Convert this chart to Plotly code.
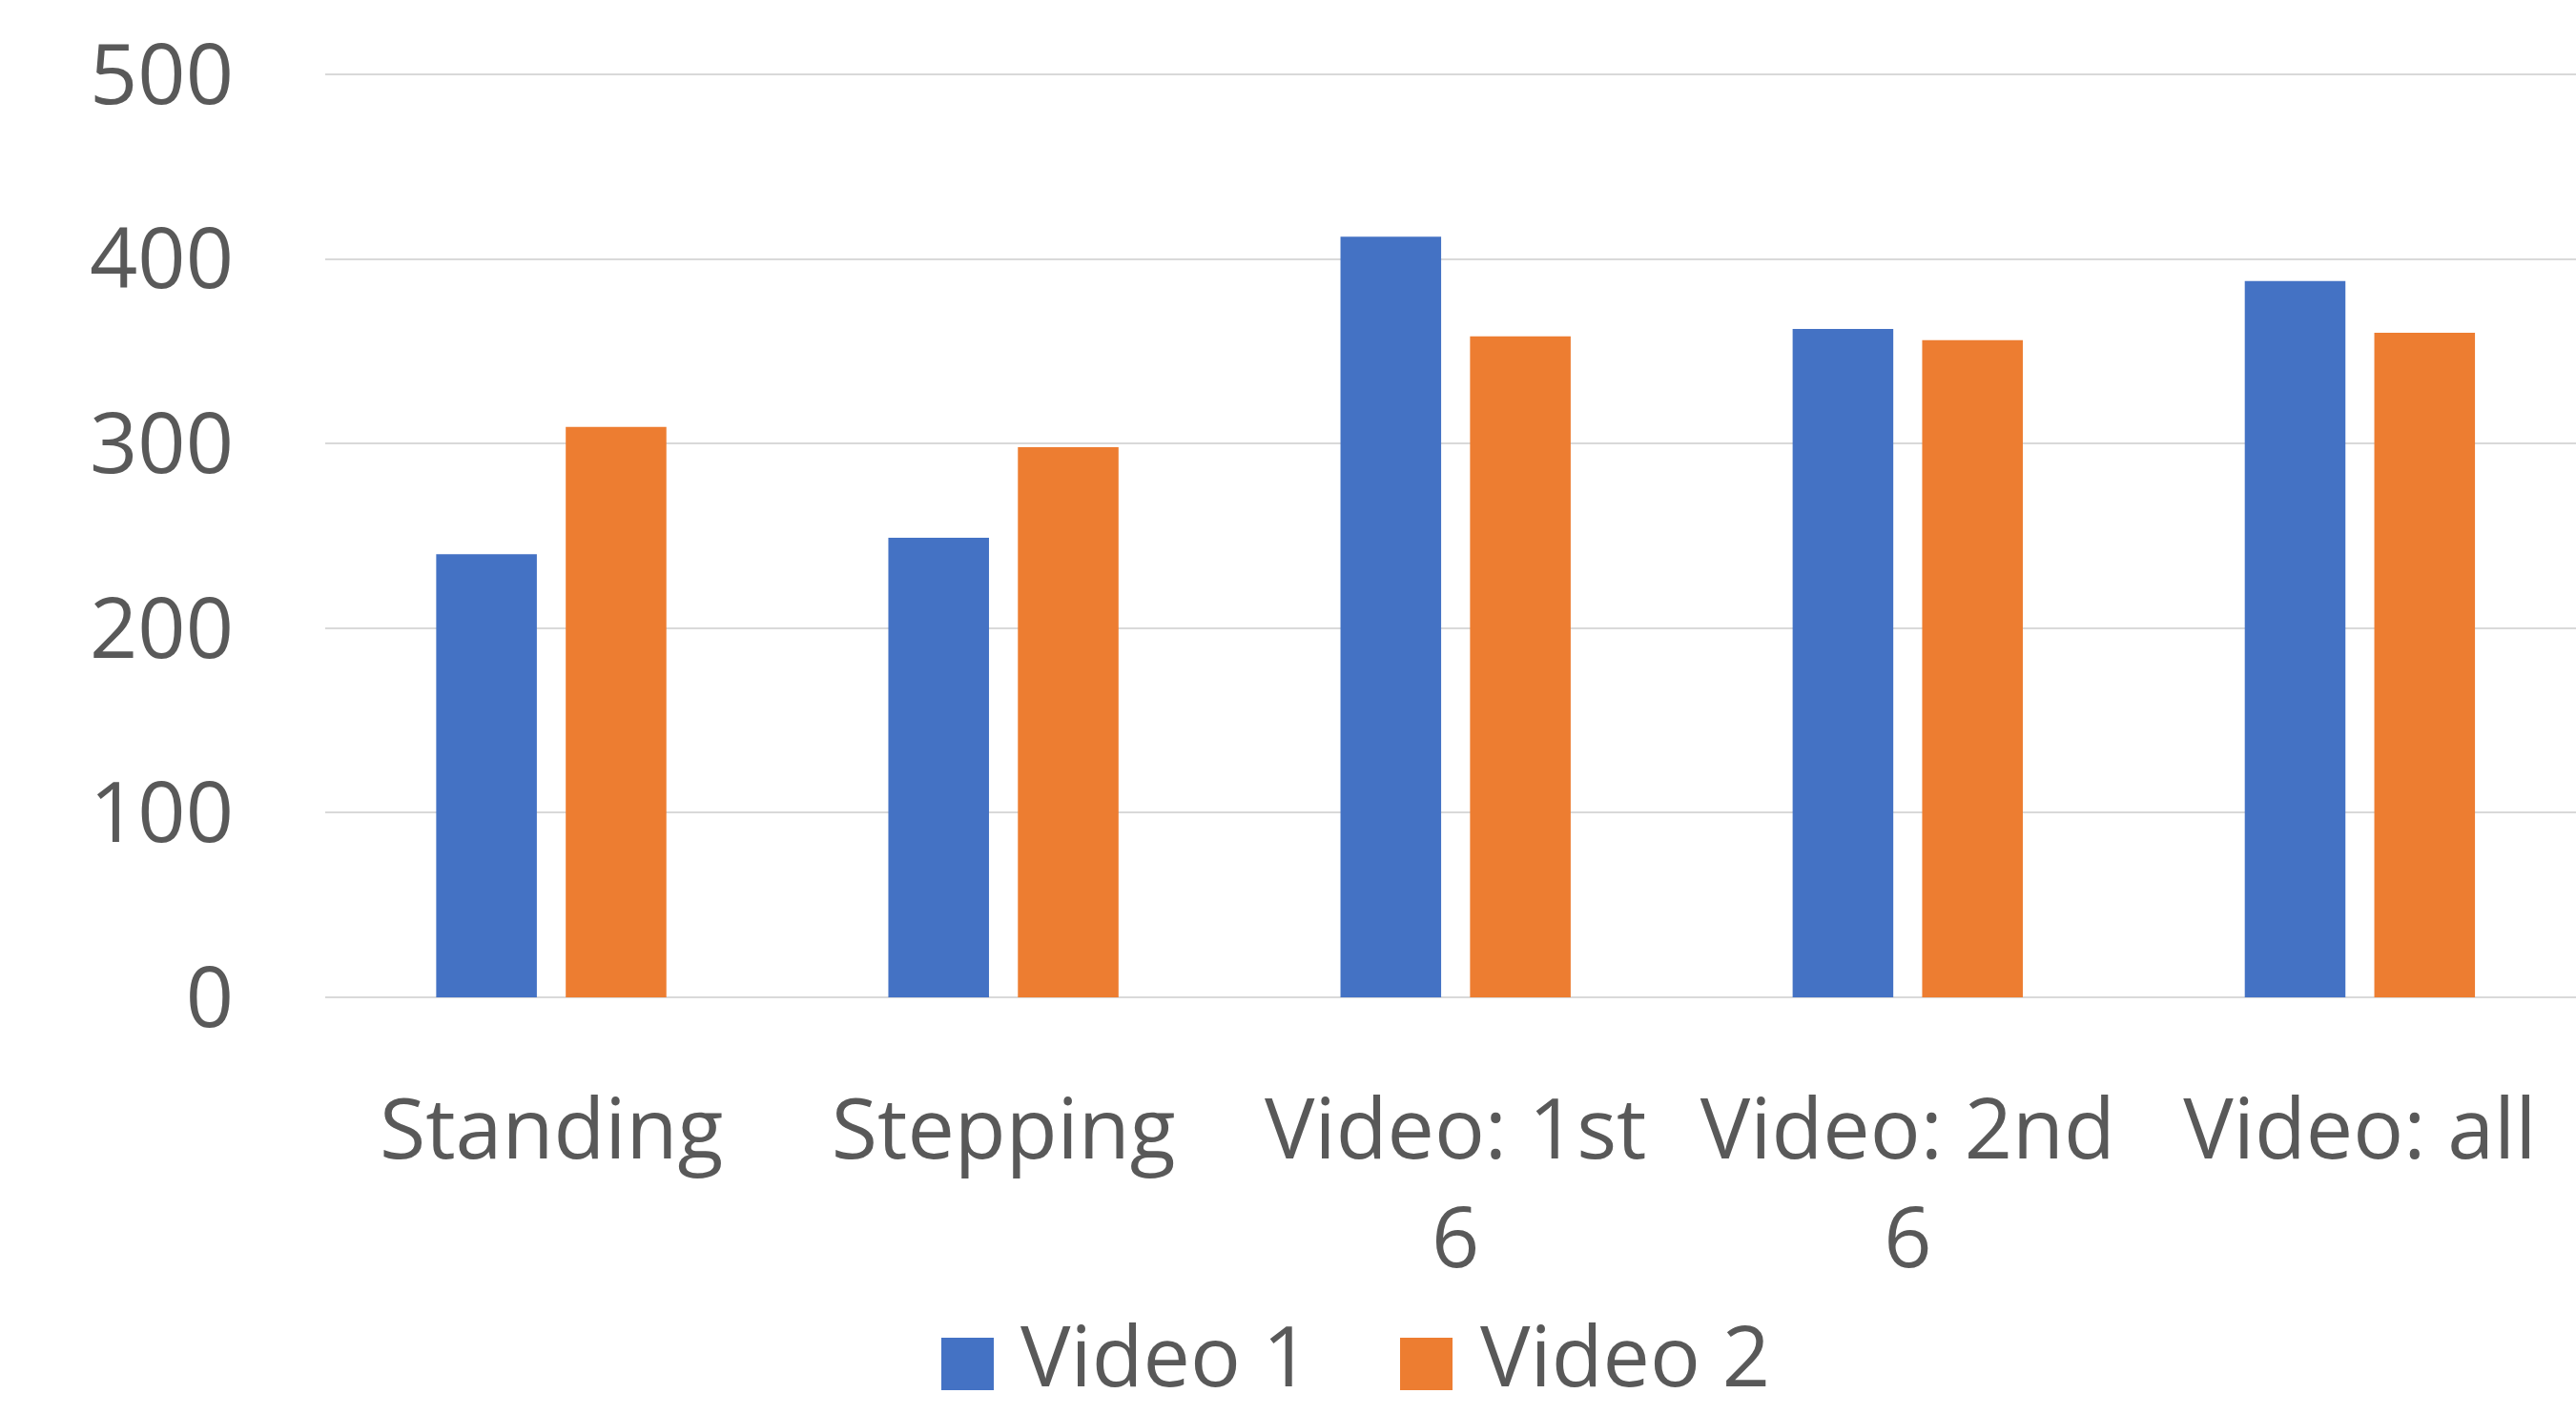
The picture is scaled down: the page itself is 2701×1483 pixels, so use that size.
import plotly.graph_objects as go

categories = ["Standing", "Stepping", "Video: 1st<br>6", "Video: 2nd<br>6", "Video: all"]
series_names = ["Video 1", "Video 2"]
video1 = [240, 249, 412, 362, 388]
video2 = [309, 298, 358, 356, 360]
y_ticks = [0, 100, 200, 300, 400, 500]
colors = ["#4472C4", "#ED7D31"]

W, H = 2701, 1483
L, R, T, B = 341, 0, 76, 437
TXT = "#595959"
FONT = "Open Sans"
FS = 88

fig = go.Figure()
for name, vals, col in zip(series_names, [video1, video2], colors):
    fig.add_trace(go.Bar(x=categories, y=vals, name=name, marker=dict(color=col, line=dict(width=0)),
                         showlegend=False))

fig.update_layout(
    width=W, height=H,
    margin=dict(l=L, r=R, t=T, b=B, pad=0),
    paper_bgcolor="white", plot_bgcolor="white",
    barmode="group", bargap=0.427, bargroupgap=0.223,
    font=dict(family=FONT, size=FS, color=TXT),
)
fig.update_xaxes(range=[-0.5, 4.478], showgrid=False, showline=False, ticks="", ticklabelstandoff=80,
                 tickfont=dict(family=FONT, size=FS, color=TXT))
fig.update_yaxes(range=[0, 501], tickvals=y_ticks, showgrid=True, gridcolor="#D9D9D9", gridwidth=2,
                 zeroline=True, zerolinecolor="#D9D9D9", zerolinewidth=2, showline=False, ticks="",
                 ticklabelstandoff=95, tickfont=dict(family=FONT, size=FS, color=TXT))

# manual legend
pw = W - L - R
ph = H - T - B
def px_x(x):
    return (x - L) / pw
def px_y(y):
    return (H - B - y) / ph

legend_sq_x = [987, 1468]
legend_txt_x = [1068, 1550]
sq_top, sq_bot = 1403, 1458
for name, col, sx, tx in zip(series_names, colors, legend_sq_x, legend_txt_x):
    fig.add_shape(type="rect", xref="paper", yref="paper",
                  x0=px_x(sx), x1=px_x(sx + 55), y0=px_y(sq_bot), y1=px_y(sq_top),
                  fillcolor=col, line=dict(width=0))
    fig.add_annotation(xref="paper", yref="paper", x=px_x(tx), y=px_y(H - 1), text=name,
                       showarrow=False, xanchor="left", yanchor="bottom",
                       font=dict(family=FONT, size=FS, color=TXT))

fig.write_html("out.html")
